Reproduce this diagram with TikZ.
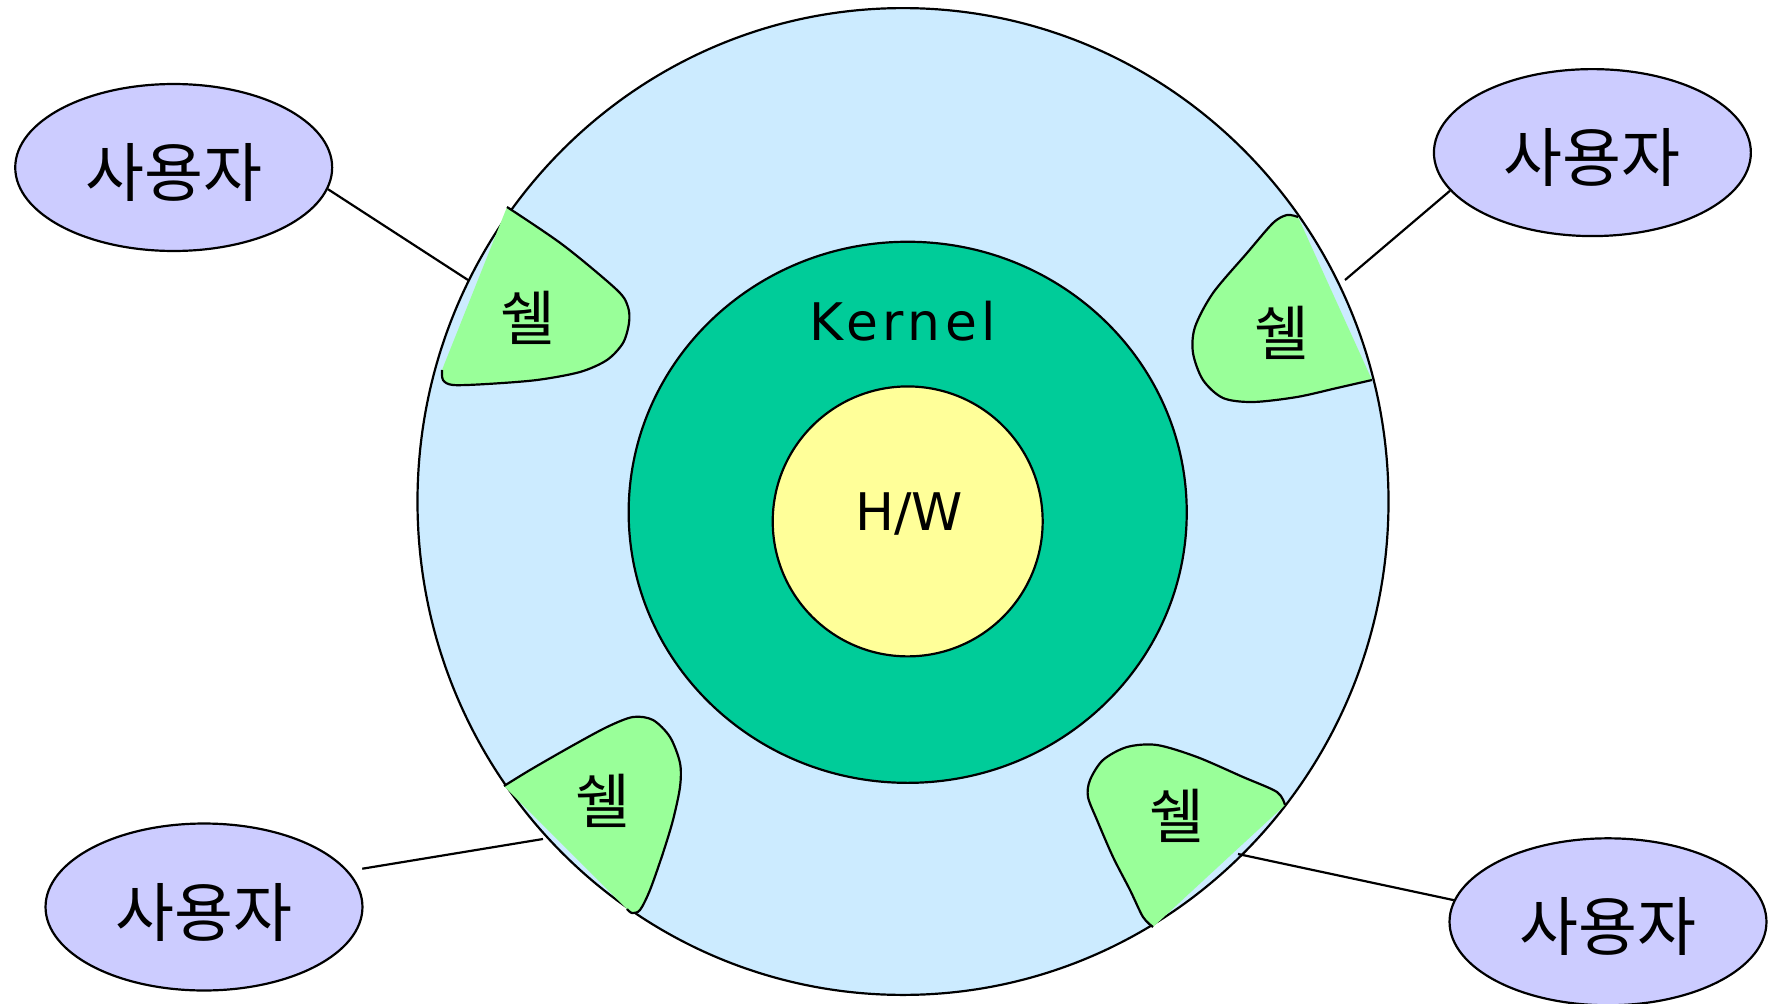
\documentclass[tikz,border=0pt]{standalone}
\usepackage{fontspec}
\setmainfont{DejaVu Sans}
\newfontfamily\kor{Noto Sans CJK KR}
\usetikzlibrary{shapes}
\definecolor{outerblue}{RGB}{204,235,255}
\definecolor{kernelgreen}{RGB}{0,204,153}
\definecolor{hwyellow}{RGB}{255,255,153}
\definecolor{userblue}{RGB}{204,204,255}
\definecolor{shellgreen}{RGB}{153,255,153}
\tikzstyle{layer}=[draw,line width=1.25pt]
\tikzstyle{user}=[ellipse,draw,fill=userblue,line width=1.25pt,minimum width=6.34cm,minimum height=3.34cm,inner sep=0pt]
\tikzstyle{userlabel}=[yshift=-0.1cm,font=\kor\fontsize{36.5}{42}\selectfont]
\tikzstyle{shell}=[draw,fill=shellgreen,line width=1.25pt]
\tikzstyle{shelllabel}=[font=\kor\fontsize{34}{40}\selectfont]
\tikzstyle{layerlabel}=[anchor=base,inner sep=0pt,font=\fontsize{29.5}{35}\selectfont]
\tikzstyle{undirectededge} = [draw,line width=1.25pt]

\begin{document}
\begin{tikzpicture}[x=0.02cm,y=-0.02cm]
    \useasboundingbox (0,0) rectangle (1779,1004);

    % layers
    \path[layer,fill=outerblue] (903,501.5) ellipse [x radius=9.712cm, y radius=9.87cm];
    \path[layer,fill=kernelgreen] (907.7,512.3) ellipse [x radius=5.582cm, y radius=5.412cm];
    \path[layer,fill=hwyellow] (907.7,521.4) circle [radius=2.7cm];
    \node[layerlabel] (kernel) at (903,340) {\addfontfeatures{LetterSpace=9}Kernel};
    \node[layerlabel] (hw) at (909,530) {H/W};

    % shells
    \path[shell] plot[smooth] coordinates {(507,207) (563,245) (617,290) (628,307) (629,323) (623,343) (607,360) (580,372) (537,380) (487,384) (453,385) (443,380) (442,370)};
    \path[shell] plot[smooth] coordinates {(1298,217) (1287,215) (1273,223) (1247,253) (1213,293) (1195,327) (1193,353) (1203,380) (1223,398) (1253,402) (1297,397) (1337,388) (1372,380)};
    \path[shell] plot[smooth] coordinates {(504,786) (530,770) (570,747) (607,727) (633,717) (653,720) (670,737) (680,763) (680,787) (673,820) (663,853) (650,890) (640,910) (632,913) (627,909)};
    \path[shell] plot[smooth] coordinates {(1285,805) (1277,792) (1243,777) (1197,757) (1157,745) (1127,747) (1103,760) (1090,780) (1088,797) (1097,820) (1113,857) (1130,890) (1143,917) (1153,927)};

    \foreach \pos/ \name in {{(527.5,317.5)/shellTL}, {(1282,332.5)/shellTR}, {(602.5,800.8)/shellBL}, {(1176.7,815.8)/shellBR}}
        \node[shelllabel] (\name) at \pos {쉘};

    % users
    \foreach \pos/ \name in {{(173.7,167.5)/userTL}, {(1592.4,152.6)/userTR}, {(204,907)/userBL}, {(1608,921.8)/userBR}}
        \node[user,label={[userlabel]center:사용자}] (\name) at \pos {};

    % connectors
    \coordinate (endTL) at (468,280);
    \coordinate (endTR) at (1345,280);
    \coordinate (endBL) at (543,839);
    \coordinate (endBR) at (1238,854);
    \foreach \source/ \ang/ \dest in {userTL/352/endTL, userTR/195/endTR, userBR/172/endBR}
        \path[undirectededge] (\source.\ang) -- (\dest);
    \path[undirectededge,shorten <=8pt] (userBL.14) -- (endBL);

\end{tikzpicture}
\end{document}
